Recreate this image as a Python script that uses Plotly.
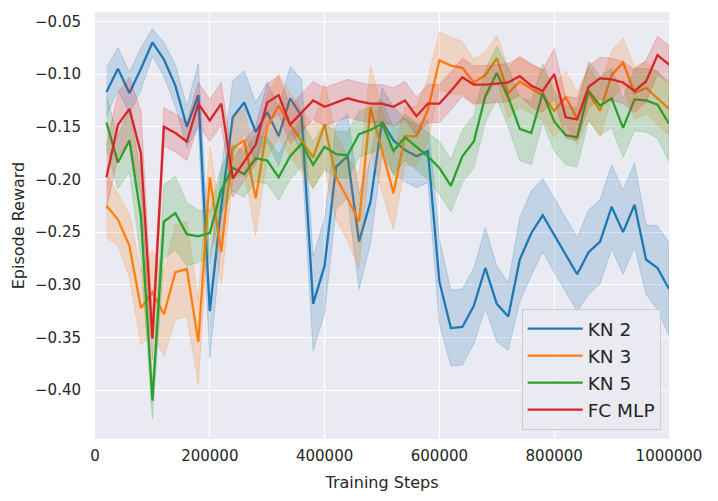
import plotly.graph_objects as go

steps = [20000 * k for k in range(1, 51)]

kn2 = [-0.117, -0.095, -0.118, -0.095, -0.070, -0.086, -0.111, -0.150, -0.120, -0.325,
       -0.226, -0.141, -0.127, -0.155, -0.136, -0.159, -0.123, -0.140, -0.318, -0.282,
       -0.188, -0.178, -0.259, -0.221, -0.145, -0.163, -0.172, -0.178, -0.173, -0.297,
       -0.341, -0.340, -0.320, -0.284, -0.318, -0.330, -0.276, -0.251, -0.234, -0.253,
       -0.272, -0.290, -0.269, -0.259, -0.226, -0.250, -0.224, -0.276, -0.284, -0.304]
kn2_ci = [0.023, 0.02, 0.02, 0.02, 0.013, 0.016, 0.02, 0.02, 0.03, 0.045,
          0.035, 0.035, 0.03, 0.028, 0.028, 0.028, 0.03, 0.035, 0.045, 0.045,
          0.04, 0.04, 0.045, 0.04, 0.032, 0.032, 0.03, 0.03, 0.03, 0.04,
          0.036, 0.036, 0.036, 0.038, 0.036, 0.032, 0.04, 0.04, 0.035, 0.035,
          0.035, 0.035, 0.04, 0.04, 0.04, 0.04, 0.04, 0.033, 0.04, 0.044]

kn3 = [-0.225, -0.238, -0.263, -0.322, -0.307, -0.328, -0.288, -0.285, -0.354, -0.198,
       -0.269, -0.170, -0.163, -0.218, -0.150, -0.130, -0.148, -0.164, -0.179, -0.148,
       -0.198, -0.218, -0.240, -0.132, -0.172, -0.213, -0.159, -0.159, -0.134, -0.087,
       -0.092, -0.094, -0.108, -0.101, -0.085, -0.118, -0.107, -0.114, -0.120, -0.135,
       -0.122, -0.142, -0.118, -0.135, -0.101, -0.089, -0.118, -0.113, -0.123, -0.133]
kn3_ci = [0.03, 0.025, 0.03, 0.035, 0.04, 0.04, 0.045, 0.045, 0.04, 0.03,
          0.03, 0.03, 0.03, 0.035, 0.03, 0.03, 0.03, 0.03, 0.03, 0.04,
          0.04, 0.04, 0.045, 0.04, 0.04, 0.035, 0.028, 0.028, 0.03, 0.027,
          0.027, 0.025, 0.022, 0.022, 0.022, 0.024, 0.024, 0.024, 0.024, 0.025,
          0.025, 0.025, 0.025, 0.025, 0.023, 0.023, 0.025, 0.025, 0.025, 0.025]

kn5 = [-0.146, -0.184, -0.163, -0.235, -0.410, -0.240, -0.232, -0.252, -0.254, -0.251,
       -0.210, -0.189, -0.195, -0.180, -0.182, -0.198, -0.178, -0.166, -0.186, -0.169,
       -0.176, -0.177, -0.157, -0.153, -0.147, -0.173, -0.160, -0.169, -0.178, -0.189,
       -0.206, -0.178, -0.164, -0.121, -0.099, -0.122, -0.152, -0.156, -0.118, -0.145,
       -0.158, -0.160, -0.116, -0.130, -0.123, -0.151, -0.124, -0.125, -0.129, -0.147]
kn5_ci = [0.025, 0.025, 0.03, 0.04, 0.017, 0.035, 0.035, 0.03, 0.025, 0.022,
          0.022, 0.022, 0.022, 0.022, 0.022, 0.022, 0.022, 0.022, 0.022, 0.022,
          0.022, 0.022, 0.022, 0.022, 0.022, 0.022, 0.022, 0.022, 0.022, 0.025,
          0.025, 0.025, 0.025, 0.025, 0.025, 0.028, 0.03, 0.03, 0.028, 0.028,
          0.028, 0.028, 0.028, 0.028, 0.028, 0.028, 0.03, 0.03, 0.032, 0.036]

fc_mlp = [-0.198, -0.148, -0.133, -0.175, -0.351, -0.150, -0.156, -0.164, -0.128, -0.144,
          -0.128, -0.199, -0.183, -0.167, -0.127, -0.120, -0.148, -0.137, -0.125, -0.131,
          -0.127, -0.123, -0.126, -0.128, -0.128, -0.131, -0.125, -0.140, -0.128, -0.128,
          -0.116, -0.103, -0.110, -0.110, -0.109, -0.108, -0.102, -0.111, -0.116, -0.100,
          -0.141, -0.143, -0.112, -0.104, -0.105, -0.108, -0.116, -0.107, -0.082, -0.091]
fc_mlp_ci = [0.03, 0.03, 0.03, 0.04, 0.02, 0.018, 0.018, 0.018, 0.02, 0.02,
             0.02, 0.018, 0.018, 0.018, 0.018, 0.018, 0.018, 0.018, 0.018, 0.018,
             0.018, 0.018, 0.018, 0.018, 0.018, 0.018, 0.018, 0.018, 0.018, 0.018,
             0.018, 0.018, 0.018, 0.018, 0.018, 0.018, 0.018, 0.02, 0.02, 0.024,
             0.02, 0.02, 0.02, 0.02, 0.02, 0.02, 0.02, 0.02, 0.018, 0.018]

series_names = ["KN 2", "KN 3", "KN 5", "FC MLP"]
series_vals = [kn2, kn3, kn5, fc_mlp]
series_ci = [kn2_ci, kn3_ci, kn5_ci, fc_mlp_ci]
colors = [(31, 119, 180), (255, 127, 14), (44, 160, 44), (214, 39, 40)]

x_ticks = [0, 200000, 400000, 600000, 800000, 1000000]
y_ticks = [-0.40, -0.35, -0.30, -0.25, -0.20, -0.15, -0.10, -0.05]

fig = go.Figure()
for name, vals, ci, (r, g, b) in zip(series_names, series_vals, series_ci, colors):
    upper = [v + c for v, c in zip(vals, ci)]
    lower = [v - c for v, c in zip(vals, ci)]
    fig.add_trace(go.Scatter(
        x=steps + steps[::-1], y=upper + lower[::-1],
        fill="toself", fillcolor=f"rgba({r},{g},{b},0.2)",
        line=dict(color=f"rgba({r},{g},{b},0.22)", width=1),
        hoverinfo="skip", showlegend=False, mode="lines"))
    fig.add_trace(go.Scatter(
        x=steps, y=vals, mode="lines", name=name,
        line=dict(color=f"rgb({r},{g},{b})", width=2.3)))

font_color = "#262626"
fig.update_layout(
    width=718, height=501,
    margin=dict(l=87, r=57, t=4, b=70),
    paper_bgcolor="white", plot_bgcolor="#EAEAF2",
    font=dict(family="DejaVu Sans", size=15, color=font_color),
    showlegend=True,
    legend=dict(x=0.9855, y=0.021, xanchor="right", yanchor="bottom",
                bgcolor="rgba(234,234,242,0.8)", bordercolor="#cccccc", borderwidth=1,
                font=dict(size=18.5, color=font_color), tracegroupgap=0,
                itemwidth=55),
    xaxis=dict(range=[0, 1000000], tickvals=x_ticks, tickformat="d",
               showgrid=True, gridcolor="white", gridwidth=1.3, zeroline=False,
               showline=False, ticks="outside", ticklen=3, tickcolor="rgba(0,0,0,0)",
               automargin=False,
               title=dict(text="Training Steps", font=dict(size=16), standoff=12)),
    yaxis=dict(range=[-0.4463, -0.0411], tickvals=y_ticks, tickformat=".2f",
               showgrid=True, gridcolor="white", gridwidth=1.3, zeroline=False,
               showline=False, ticks="outside", ticklen=10, tickcolor="rgba(0,0,0,0)",
               automargin=False,
               title=dict(text="Episode Reward", font=dict(size=16), standoff=6)),
)

fig.write_html("out.html")
